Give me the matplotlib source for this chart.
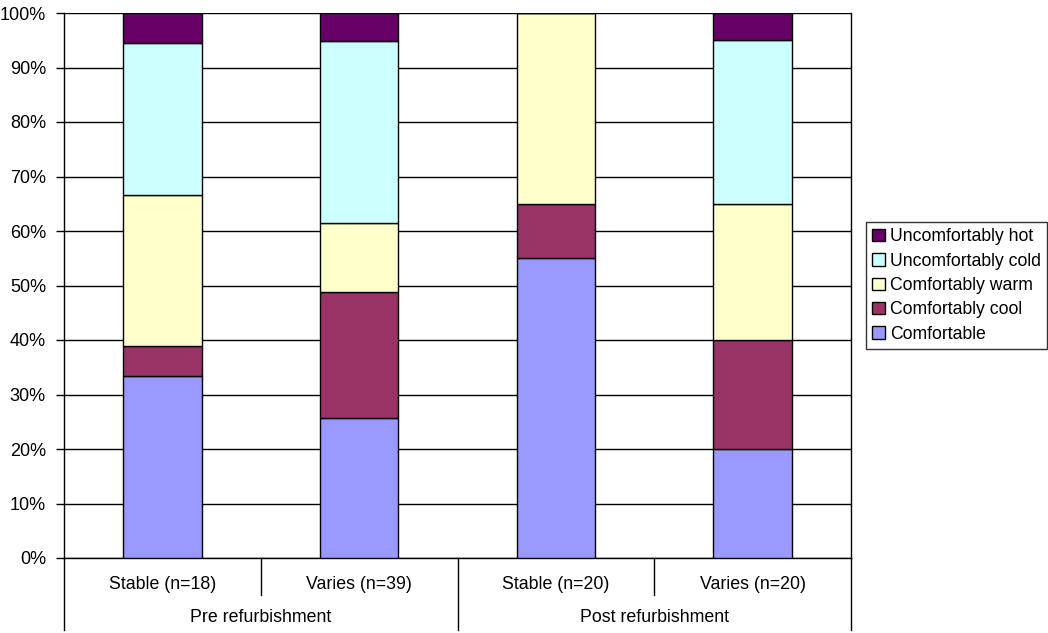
import numpy as np
import matplotlib
matplotlib.use('Agg')
import matplotlib.pyplot as plt
from matplotlib.patches import Patch

plt.rcParams['font.family'] = ['Liberation Sans', 'DejaVu Sans']

# response counts per group
groups = ['Stable (n=18)', 'Varies (n=39)', 'Stable (n=20)', 'Varies (n=20)']
phases = ['Pre refurbishment', 'Post refurbishment']
series = ['Comfortable', 'Comfortably cool', 'Comfortably warm',
          'Uncomfortably cold', 'Uncomfortably hot']
comfortable = [6, 10, 11, 4]
comf_cool = [1, 9, 2, 4]
comf_warm = [5, 5, 7, 5]
uncomf_cold = [5, 13, 0, 6]
uncomf_hot = [1, 2, 0, 1]
colors = ['#9999FF', '#993366', '#FFFFCC', '#CCFFFF', '#660066']

counts = np.array([comfortable, comf_cool, comf_warm, uncomf_cold, uncomf_hot], dtype=float)
pct = counts / counts.sum(axis=0) * 100

fig = plt.figure(figsize=(10.48, 6.33), dpi=100)
ax = fig.add_axes([64 / 1048, 75 / 633, 787 / 1048, 545 / 633])

x = np.arange(len(groups))
bottom = np.zeros(len(groups))
for vals, name, c in zip(pct, series, colors):
    ax.bar(x, vals, 0.4, bottom=bottom, color=c, edgecolor='black', linewidth=1, label=name, zorder=3)
    bottom += vals

ax.set_xlim(-0.5, 3.5)
ax.set_ylim(0, 100)
ax.set_yticks(np.arange(0, 101, 10))
ax.set_yticklabels([f'{v}%' for v in range(0, 101, 10)], fontsize=13)
ax.yaxis.grid(True, color='black', linewidth=1, zorder=0)
ax.tick_params(axis='y', length=6, width=1, pad=7)
ax.set_xticks([])
for s in ax.spines.values():
    s.set_linewidth(1)
ax.spines['top'].set_visible(False)

# two level category axis
tr = ax.get_xaxis_transform()
for xb in [0.5, 2.5]:
    ax.plot([xb, xb], [0, -0.068], transform=tr, color='black', linewidth=1, clip_on=False)
for xb in [-0.5, 1.5, 3.5]:
    ax.plot([xb, xb], [0, -0.132], transform=tr, color='black', linewidth=1, clip_on=False)
for i, g in enumerate(groups):
    ax.text(i, -0.048, g, transform=tr, ha='center', va='center', fontsize=12.8)
for j, p in enumerate(phases):
    ax.text(2 * j + 0.5, -0.110, p, transform=tr, ha='center', va='center', fontsize=12.8)

handles = [Patch(facecolor=c, edgecolor='black', linewidth=1, label=n) for n, c in zip(series, colors)]
leg = fig.legend(handles[::-1], series[::-1], loc='center left', bbox_to_anchor=(866 / 1048, 1 - 285.5 / 633),
                 frameon=True, fancybox=False, edgecolor='black', fontsize=12.7,
                 handlelength=0.7, handleheight=0.7, handletextpad=0.3, labelspacing=0.42,
                 borderpad=0.35, borderaxespad=0)
leg.get_frame().set_linewidth(1)

fig.savefig('out.png', dpi=100)
